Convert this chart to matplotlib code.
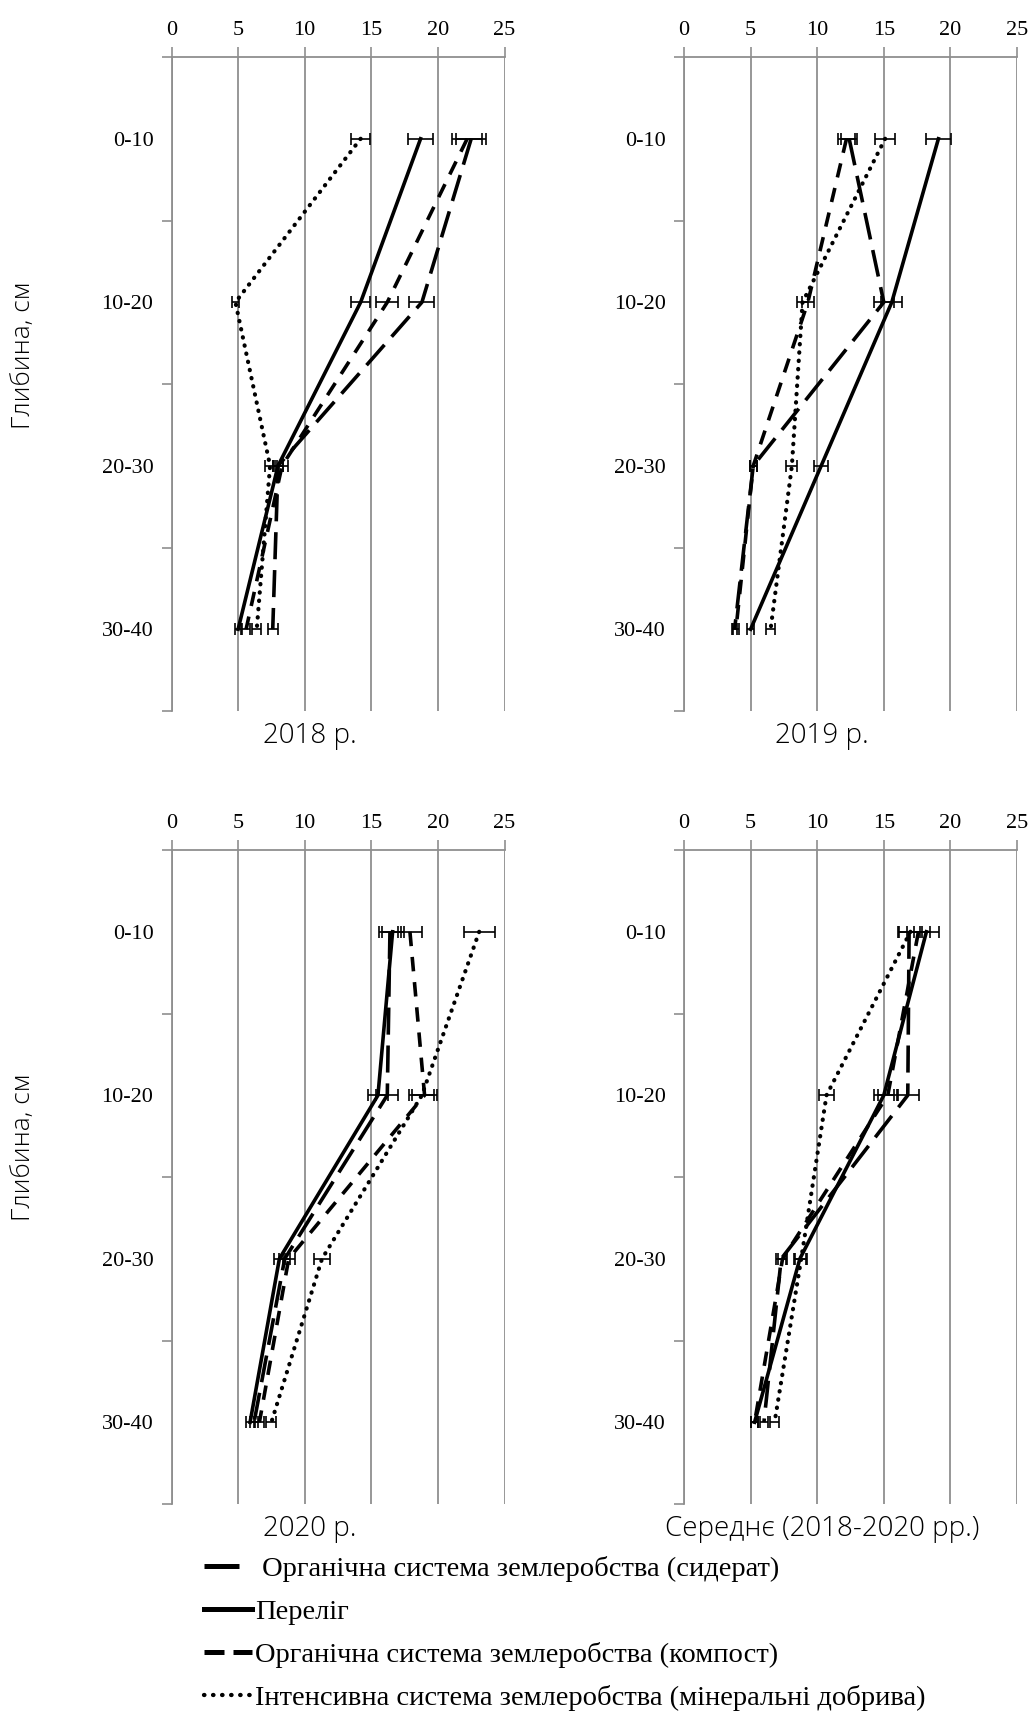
import numpy as np
import matplotlib.pyplot as plt
from matplotlib.lines import Line2D

# Шари ґрунту і назви панелей
depths = ['0-10', '10-20', '20-30', '30-40']
panels = ['2018 р.', '2019 р.', '2020 р.', 'Середнє (2018-2020 рр.)']

# Значення по панелях: 2018, 2019, 2020, середнє
siderat = [[22.5, 18.8, 8.0, 7.6], [12.4, 15.0, 5.2, 3.8],
           [16.4, 16.2, 8.5, 6.2], [16.9, 16.8, 7.3, 6.0]]
perelig = [[18.7, 14.2, 8.0, 5.0], [19.1, 15.6, 10.3, 5.0],
           [16.6, 15.5, 8.1, 5.9], [18.2, 15.0, 8.7, 5.3]]
kompost = [[22.2, 16.2, 8.3, 5.6], [12.2, 9.3, 5.2, 3.9],
           [17.9, 19.0, 8.8, 6.6], [17.6, 15.3, 7.4, 5.3]]
mineral = [[14.2, 4.8, 7.4, 6.4], [15.1, 8.9, 8.1, 6.5],
           [23.1, 18.8, 11.3, 7.5], [17.0, 10.7, 8.8, 6.8]]
labels = [' Органічна система землеробства (сидерат)',
          'Переліг',
          'Органічна система землеробства (компост)',
          'Інтенсивна система землеробства (мінеральні добрива)']
err_pct = 0.05  # похибка 5 %

grid_c = '#8f8f8f'
lw = 2.6
styles = [dict(dashes=(7.5, 3), lw=lw), dict(linestyle='-', lw=lw),
          dict(dashes=(4, 3), lw=lw),
          dict(dashes=(0.1, 1.9), dash_capstyle='round', lw=lw + 0.4)]

fig = plt.figure(figsize=(10.29, 17.13), dpi=100)
W, H = 1029, 1713
boxes = [(171.5, 57), (684, 57), (171.5, 850), (684, 850)]

y = np.arange(len(depths))
for k, (x0, top) in enumerate(boxes):
    ax = fig.add_axes([x0 / W, 1 - (top + 654) / H, 333 / W, 654 / H])
    for s, data in enumerate([siderat, perelig, kompost, mineral]):
        v = np.array(data[k])
        ax.errorbar(v, y, xerr=v * err_pct, fmt='none', ecolor='black',
                    elinewidth=1.2, capsize=4, capthick=1.2, zorder=3)
        ax.plot(v, y, color='black', zorder=4, **styles[s])
    ax.set_xlim(0, 25)
    ax.set_ylim(3.5, -0.5)
    ax.xaxis.tick_top()
    ax.set_xticks(range(0, 26, 5))
    ax.set_yticks(y)
    ax.set_yticklabels(depths)
    ax.set_yticks([-0.5, 0.5, 1.5, 2.5, 3.5], minor=True)
    ax.tick_params(axis='y', which='major', length=0, pad=13)
    ax.tick_params(axis='y', which='minor', length=7, width=1.2, color=grid_c)
    ax.tick_params(axis='x', length=7, width=1.2, color=grid_c, pad=5)
    for t in ax.get_xticklabels() + ax.get_yticklabels():
        t.set_fontfamily('Liberation Serif')
        t.set_fontsize(16)
    ax.grid(axis='x', color=grid_c, lw=1.3)
    for sp in ['right', 'bottom']:
        ax.spines[sp].set_visible(False)
    for sp in ['top', 'left']:
        ax.spines[sp].set_color(grid_c)
        ax.spines[sp].set_linewidth(1.3)
    fig.text((x0 + 138) / W, 1 - (top + 679) / H, panels[k],
             family='Open Sans', fontweight='light', fontsize=20,
             ha='center', va='center')

for yc in [355, 1147]:
    fig.text(24 / W, 1 - yc / H, 'Глибина, см', family='Open Sans',
             fontweight='light', fontsize=19, rotation=90,
             ha='center', va='center')

# Легенда
handles = [Line2D([], [], color='black', lw=lw + 1, dashes=(7, 10)),
           Line2D([], [], color='black', lw=lw + 1),
           Line2D([], [], color='black', lw=lw + 1, dashes=(4, 1.8)),
           Line2D([], [], color='black', lw=lw + 0.5, dashes=(0.1, 2.0),
                  dash_capstyle='round')]
fig.legend(handles, labels, loc='upper left',
           bbox_to_anchor=(204 / W, 1 - 1556 / H), frameon=False,
           prop={'family': 'Liberation Serif', 'size': 20.5},
           handlelength=1.7, handletextpad=0.1, labelspacing=0.6,
           borderpad=0, borderaxespad=0)

fig.savefig('out.png', dpi=100)
